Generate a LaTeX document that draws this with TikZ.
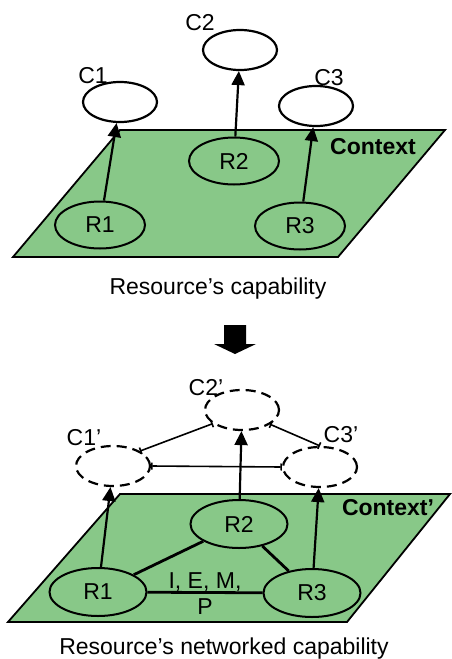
\documentclass[tikz,border=0pt]{standalone}
\usepackage{fontspec}
\setmainfont{Liberation Sans}
\usetikzlibrary{shapes.geometric,arrows.meta}
\definecolor{ctxgreen}{RGB}{136,200,136}
\begin{document}
\begin{tikzpicture}[x=1pt,y=-1pt,
  every node/.style={font=\fontsize{23}{26}\selectfont},
  resnode/.style={ellipse,draw,line width=2pt,inner sep=0pt,minimum width=90pt,minimum height=47pt},
  capnode/.style={ellipse,draw,fill=white,line width=2.2pt,inner sep=0pt,minimum width=74pt,minimum height=40pt},
  capdnode/.style={capnode,dash pattern=on 10pt off 6pt},
  lbl/.style={anchor=base,inner sep=0pt},
  uparrow/.style={line width=2.2pt,-{Triangle[length=14pt,width=13pt]}},
  link/.style={line width=2.8pt},
  netlink/.style={line width=1.6pt,{Bar[width=7pt]}-{Bar[width=7pt]}},
  plane/.style={fill=ctxgreen,draw,line width=1.8pt,line join=miter}]
\useasboundingbox (0,0) rectangle (451,659);
% ---------- top: Resource's capability ----------
\draw[plane] (120,130) -- (445,130) -- (338,257) -- (13,257) -- cycle;
\node[capnode] (C1) at (120,102) {};
\node[capnode] (C2) at (240,50) {};
\node[capnode] (C3) at (316,106) {};
\node[lbl] (C1l) at (93,83) {C1};
\node[lbl] (C2l) at (200,30) {C2};
\node[lbl] (C3l) at (329,85) {C3};
\node[resnode] (R1) at (100,225) {R1};
\node[resnode] (R2) at (234,161) {R2};
\node[resnode] (R3) at (300,226) {R3};
\node[lbl,font=\fontsize{23}{26}\selectfont\bfseries] (ctx) at (373,154) {Context};
\draw[uparrow] (R1) -- (C1);
\draw[uparrow] (R2) -- (C2);
\draw[uparrow] (R3) -- (C3);
\node[lbl] (cap1) at (218,294) {Resource’s capability};
% ---------- block arrow ----------
\fill (224,325) -- (246,325) -- (246,344) -- (256,344) -- (235,354) -- (214,344) -- (224,344) -- cycle;
% ---------- bottom: networked capability ----------
\draw[plane] (120,494) -- (450,494) -- (347,622) -- (8,622) -- cycle;
\node[capdnode] (C1p) at (113,466) {};
\node[capdnode] (C2p) at (242,410) {};
\node[capdnode] (C3p) at (320,467) {};
\node[lbl] (C1pl) at (84,445) {C1'};
\node[lbl] (C2pl) at (206,395) {C2'};
\node[lbl] (C3pl) at (341,442) {C3'};
\draw[netlink] (C1p.29) -- (C2p.205);
\draw[netlink] (C2p.333) -- (C3p.north);
\draw[netlink] (C1p.east) -- (C3p.west);
\node[resnode,minimum width=97pt,minimum height=48pt] (R1p) at (98,592) {R1};
\node[resnode,minimum width=97pt,minimum height=48pt] (R2p) at (239,524) {R2};
\node[resnode,minimum width=97pt,minimum height=48pt] (R3p) at (312,593) {R3};
\node[lbl,font=\fontsize{23}{26}\selectfont\bfseries] (ctxp) at (388,515) {Context’};
\draw[link] (R1p) -- (R2p);
\draw[link] (R2p) -- (R3p);
\draw[link] (R1p) -- node[align=center,inner sep=0pt,yshift=-1pt] {I, E, M,\\P} (R3p);
\draw[uparrow] (R1p) -- (C1p);
\draw[uparrow] (R2p) -- (C2p);
\draw[uparrow] (R3p) -- (C3p);
\node[lbl] (cap2) at (224,654) {Resource’s networked capability};
\end{tikzpicture}
\end{document}
